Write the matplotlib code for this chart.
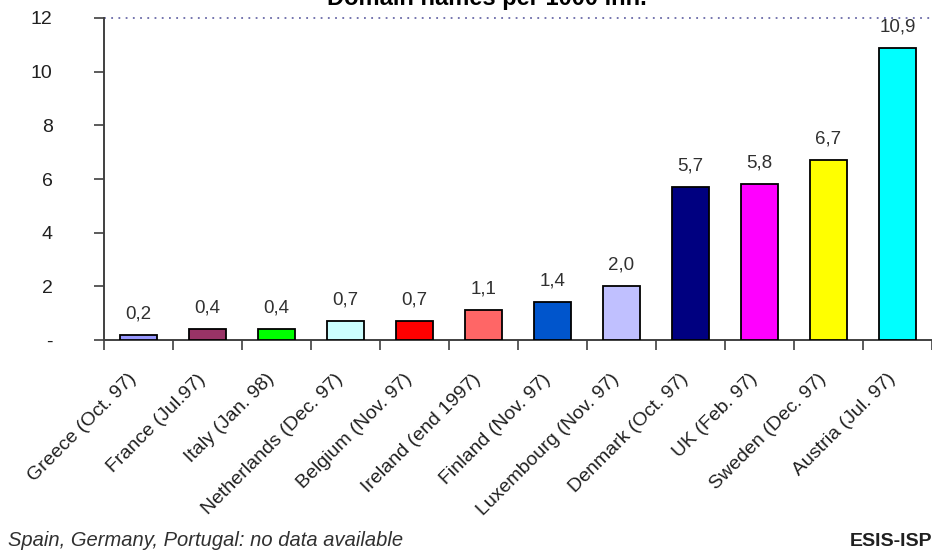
import matplotlib
matplotlib.use("Agg")
import matplotlib.pyplot as plt
import matplotlib.transforms as mtransforms
import numpy as np

categories = ["Greece (Oct. 97)", "France (Jul.97)", "Italy (Jan. 98)", "Netherlands (Dec. 97)",
              "Belgium (Nov. 97)", "Ireland (end 1997)", "Finland (Nov. 97)", "Luxembourg (Nov. 97)",
              "Denmark (Oct. 97)", "UK (Feb. 97)", "Sweden (Dec. 97)", "Austria (Jul. 97)"]
values = [0.2, 0.4, 0.4, 0.7, 0.7, 1.1, 1.4, 2.0, 5.7, 5.8, 6.7, 10.9]
value_labels = ["0,2", "0,4", "0,4", "0,7", "0,7", "1,1", "1,4", "2,0", "5,7", "5,8", "6,7", "10,9"]
colors = ["#9999ff", "#993366", "#00ff00", "#ccffff", "#ff0000", "#ff6666", "#0055cc", "#c0c0ff",
          "#000080", "#ff00ff", "#ffff00", "#00ffff"]
yticks = [0, 2, 4, 6, 8, 10, 12]
ytick_labels = ["-", "2", "4", "6", "8", "10", "12"]

FONT = "Liberation Sans"
W, H = 932, 555
fig = plt.figure(figsize=(W / 100, H / 100), dpi=100)
ax_l, ax_r, ax_t, ax_b = 104, 932, 18, 340
ax = fig.add_axes([ax_l / W, 1 - ax_b / H, (ax_r - ax_l) / W, (ax_b - ax_t) / H])

x = np.arange(len(categories))
ax.bar(x, values, width=0.55, color=colors, edgecolor="black", linewidth=1.3, zorder=3)
for xi, v, lab in zip(x, values, value_labels):
    ax.annotate(lab, (xi, v), xytext=(0, 9), textcoords="offset points",
                ha="center", va="bottom", fontsize=13.5, color="#303030", family=FONT)

step = 69.7
ax.set_xlim(-0.5, -0.5 + (ax_r - ax_l) / step)
ax.set_ylim(0, 12)
ax.axhline(12, color="#6a6aa8", linestyle=(0, (1, 3)), linewidth=1.3, zorder=2, clip_on=False)

ax.set_yticks(yticks)
ax.set_yticklabels(ytick_labels, fontsize=14, family=FONT, color="#202020")
ax.tick_params(axis="y", direction="out", length=7, width=1.2, color="#404040", pad=30)
for lab in ax.get_yticklabels():
    lab.set_horizontalalignment("right")

ax.set_xticks(x)
ax.set_xticklabels(categories, rotation=45, ha="right", rotation_mode="anchor",
                   fontsize=14, family=FONT, color="#202020")
ax.tick_params(axis="x", which="major", length=0, pad=22)
shift = mtransforms.ScaledTranslation(-11 / 100, 0, fig.dpi_scale_trans)
for lab in ax.get_xticklabels():
    lab.set_transform(lab.get_transform() + shift)
ax.set_xticks(np.arange(-0.5, len(categories), 1.0), minor=True)
ax.tick_params(axis="x", which="minor", direction="out", length=7, width=1.2, color="#404040")

for side in ["top", "right"]:
    ax.spines[side].set_visible(False)
for side in ["left", "bottom"]:
    ax.spines[side].set_color("#404040")
    ax.spines[side].set_linewidth(1.4)

fig.text(487 / W, 1 - 5 / H, "Domain names per 1000 inh.", ha="center", va="baseline",
         fontsize=17, fontweight="bold", family=FONT)
fig.text(8 / W, 1 - 541 / H, "Spain, Germany, Portugal: no data available", ha="left", va="center",
         fontsize=14.5, style="italic", color="#303030", family=FONT)
fig.text(1.0, 1 - 541 / H, "ESIS-ISP", ha="right", va="center",
         fontsize=14, fontweight="bold", family=FONT, color="#202020")

fig.savefig("out.png", dpi=100)
